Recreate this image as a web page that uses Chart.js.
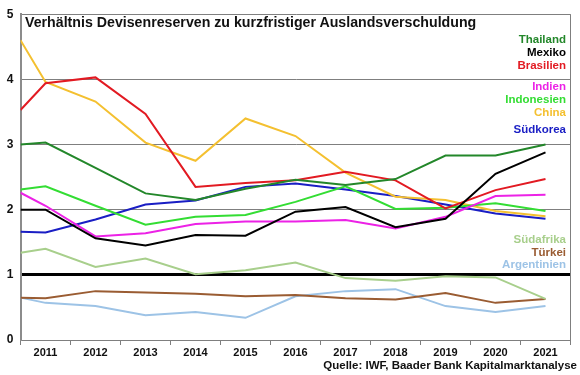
<!DOCTYPE html>
<html>
<head>
<meta charset="utf-8">
<script src="https://cdn.jsdelivr.net/npm/chart.js@4"></script>
<style>
  html, body { margin: 0; padding: 0; background: #fff; }
  #wrap { position: relative; width: 580px; height: 375px; font-family: "Liberation Sans", Arial, sans-serif; font-weight: bold; }
  canvas { position: absolute; left: 0; top: 0; }
  .txt { position: absolute; white-space: nowrap; line-height: 1; }
  #title { left: 25px; top: 15px; font-size: 14.2px; color: #111; }
  .lab { right: 14px; font-size: 11.5px; }
  #source { right: 3px; top: 360px; font-size: 11.5px; color: #111; }
</style>
</head>
<body>
<div id="wrap">
  <canvas id="chart" width="580" height="375"></canvas>
  <div id="title" class="txt">Verhältnis Devisenreserven zu kurzfristiger Auslandsverschuldung</div>
  <div id="labels"></div>
  <div id="source" class="txt">Quelle: IWF, Baader Bank Kapitalmarktanalyse</div>
</div>
<script>
/* ─── DATA ────────────────────────────────────────────────── */
const years   = [2011, 2012, 2013, 2014, 2015, 2016, 2017, 2018, 2019, 2020, 2021];
const xStart  = 2010.5;           // first value sits on the left axis edge
const xPoints = [xStart, ...years];

const thailand    = [3.00, 3.03, 2.64, 2.25, 2.15, 2.32, 2.46, 2.38, 2.47, 2.83, 2.83, 3.00];
const mexiko      = [2.00, 2.00, 1.56, 1.45, 1.61, 1.60, 1.97, 2.04, 1.73, 1.86, 2.55, 2.88];
const brasilien   = [3.53, 3.94, 4.03, 3.47, 2.35, 2.41, 2.45, 2.58, 2.45, 2.02, 2.30, 2.47];
const indien      = [2.26, 2.06, 1.59, 1.64, 1.78, 1.82, 1.82, 1.84, 1.71, 1.89, 2.21, 2.23];
const indonesien  = [2.31, 2.36, 2.06, 1.77, 1.89, 1.92, 2.12, 2.36, 2.01, 2.03, 2.10, 1.98];
const china       = [4.60, 3.96, 3.66, 3.03, 2.75, 3.40, 3.13, 2.57, 2.20, 2.15, 1.98, 1.90];
const suedkorea   = [1.66, 1.65, 1.85, 2.08, 2.14, 2.35, 2.40, 2.31, 2.21, 2.08, 1.94, 1.86];
const suedafrika  = [1.34, 1.40, 1.12, 1.25, 1.01, 1.07, 1.19, 0.95, 0.91, 0.98, 0.96, 0.63];
const tuerkei     = [0.65, 0.64, 0.75, 0.73, 0.71, 0.67, 0.69, 0.64, 0.62, 0.72, 0.57, 0.63];
const argentinien = [0.65, 0.57, 0.52, 0.38, 0.43, 0.34, 0.67, 0.75, 0.78, 0.52, 0.43, 0.52];

const yTicks = [0, 1, 2, 3, 4, 5];

/* ─── SERIES ──────────────────────────────────────────────── */
const series = [
  { name: 'Thailand',    values: thailand,    color: '#23872a', top: 34 },
  { name: 'Mexiko',      values: mexiko,      color: '#000000', top: 47 },
  { name: 'Brasilien',   values: brasilien,   color: '#e21a22', top: 60 },
  { name: 'Indien',      values: indien,      color: '#ec22e6', top: 81 },
  { name: 'Indonesien',  values: indonesien,  color: '#33dd33', top: 94 },
  { name: 'China',       values: china,       color: '#f4c030', top: 107 },
  { name: 'Südkorea',    values: suedkorea,   color: '#1a1ec4', top: 124 },
  { name: 'Südafrika',   values: suedafrika,  color: '#a8cf8c', top: 234 },
  { name: 'Türkei',      values: tuerkei,     color: '#9a5c32', top: 247 },
  { name: 'Argentinien', values: argentinien, color: '#9dc3e6', top: 259 },
];

const labelBox = document.getElementById('labels');
series.forEach(s => {
  const d = document.createElement('div');
  d.className = 'txt lab';
  d.style.top = s.top + 'px';
  d.style.color = s.color;
  d.textContent = s.name;
  labelBox.appendChild(d);
});

/* ─── CHART ───────────────────────────────────────────────── */
const frame = {
  id: 'frame',
  afterDatasetsDraw(chart) {
    const { ctx, chartArea: a } = chart;
    ctx.save();
    ctx.strokeStyle = '#7f7f7f';
    ctx.lineWidth = 1;
    ctx.beginPath();
    ctx.moveTo(a.right, a.top);
    ctx.lineTo(a.right, a.bottom);
    ctx.stroke();
    ctx.restore();
  },
};

const tickFont = { family: '"Liberation Sans", Arial, sans-serif', size: 11, weight: 'bold' };

new Chart(document.getElementById('chart'), {
  type: 'line',
  data: {
    datasets: series.map(s => ({
      label: s.name,
      data: s.values.map((v, i) => ({ x: xPoints[i], y: v })),
      borderColor: s.color,
      borderWidth: 2,
      pointRadius: 0,
      tension: 0,
      fill: false,
    })),
  },
  options: {
    responsive: false,
    animation: false,
    layout: { padding: { top: 10, right: 9.5, left: 0, bottom: 0 } },
    plugins: { legend: { display: false }, tooltip: { enabled: false } },
    scales: {
      x: {
        type: 'linear',
        min: xStart,
        max: years[years.length - 1] + 0.5,
        afterBuildTicks: sc => { sc.ticks = years.map(v => ({ value: v })); },
        afterFit: sc => { sc.height = 35; },
        grid: { offset: true, drawOnChartArea: false, drawTicks: true, tickLength: 5, color: '#7f7f7f' },
        border: { display: true, color: '#7f7f7f', width: 1 },
        ticks: { autoSkip: false, maxRotation: 0, padding: 1, color: '#111', font: tickFont, callback: v => String(v) },
      },
      y: {
        min: 0,
        max: 5,
        afterBuildTicks: sc => { sc.ticks = yTicks.map(v => ({ value: v })); },
        afterFit: sc => { sc.width = 20.5; },
        grid: {
          drawTicks: false,
          color: c => c.tick && c.tick.value === 1 ? '#000' : (c.tick && c.tick.value === 0 ? 'rgba(0,0,0,0)' : '#7f7f7f'),
          lineWidth: c => c.tick && c.tick.value === 1 ? 3 : 1,
        },
        border: { display: true, color: '#8c8c8c', width: 2 },
        ticks: { padding: 7, color: '#111', font: { ...tickFont, size: 12 }, callback: v => String(v) },
      },
    },
  },
  plugins: [frame],
});
</script>
</body>
</html>
